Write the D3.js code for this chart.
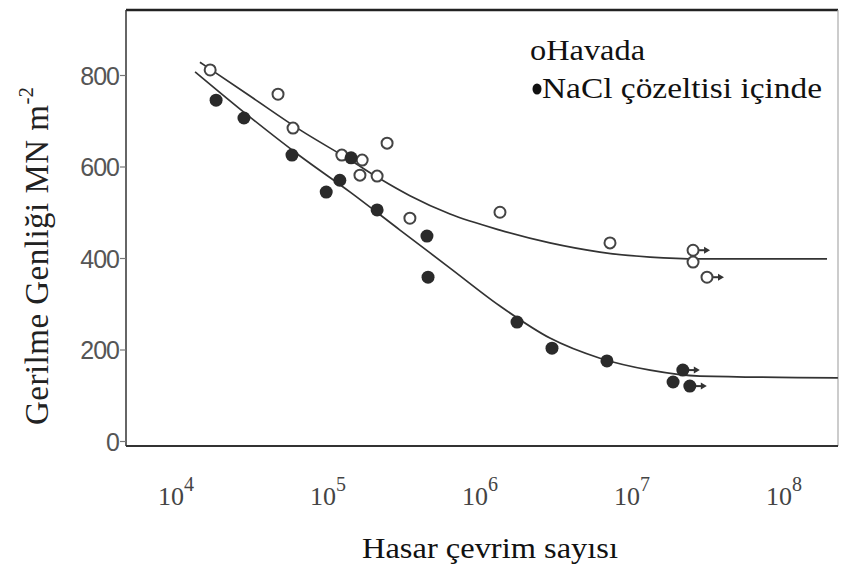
<!DOCTYPE html>
<html><head><meta charset="utf-8">
<script src="https://cdn.jsdelivr.net/npm/d3@7/dist/d3.min.js"></script>
<style>html,body{margin:0;padding:0;background:#fff;}svg{display:block;}</style>
</head><body><svg id="c" width="842" height="565"></svg>
<script>
// ---- data ----
const xTickValues = [1e4, 1e5, 1e6, 1e7, 1e8];
const xTickExponents = ["4", "5", "6", "7", "8"];
const yTickValues = [0, 200, 400, 600, 800];

// Havada (open circles)
const havadaN = [1.81e4, 5.06e4, 6.35e4, 1.33e5, 1.81e5, 1.75e5, 2.27e5, 2.64e5, 3.73e5, 1.46e6, 7.73e6, 2.72e7, 2.72e7, 3.36e7];
const havadaS = [811, 758, 684, 625, 614, 581, 579, 651, 487, 500, 433, 417, 391, 358];
const havadaRunout = [0,0,0,0,0,0,0,0,0,0,0,1,0,1];

// NaCl çözeltisi (filled circles)
const naclN = [1.98e4, 3.02e4, 6.25e4, 1.05e5, 1.29e5, 1.53e5, 2.27e5, 4.83e5, 4.91e5, 1.89e6, 3.21e6, 7.38e6, 2.33e7, 2.01e7, 2.59e7];
const naclS = [745, 706, 625, 544, 570, 619, 505, 448, 358, 260, 203, 175, 155, 129, 120];
const naclRunout = [0,0,0,0,0,0,0,0,0,0,0,0,1,0,1];

// fitted curves
const upperN = [1.55e4, 3.31e4, 7.06e4, 1.51e5, 2.37e5, 3.73e5, 6.85e5, 1.46e6, 3.11e6, 6.64e6, 1.42e7, 3.02e7, 2.07e8];
const upperS = [828, 754, 680, 614, 573, 536, 496, 461, 433, 413, 402, 398, 398];
const lowerN = [1.44e4, 3.31e4, 7.06e4, 1.51e5, 3.21e5, 6.85e5, 1.46e6, 3.11e6, 6.64e6, 1.42e7, 3.02e7, 2.44e8];
const lowerS = [807, 708, 623, 544, 461, 378, 295, 225, 181, 155, 142, 138];

const legendLabels = ["oHavada", "NaCl çözeltisi içinde"];
const xTitle = "Hasar çevrim sayısı";
const yTitle = "Gerilme Genliği MN m";

// ---- layout ----
const svg = d3.select("#c");
svg.append("rect").attr("width", 842).attr("height", 565).attr("fill", "#fff");
const frame = {left: 126, top: 10, right: 838, bottom: 446};

const x = d3.scaleLog().domain([1e4, 1e8]).range([171, 779]);
const y = d3.scaleLinear().domain([0, 800]).range([441, 75]);

// frame
svg.append("line").attr("x1", frame.left).attr("x2", frame.right).attr("y1", frame.top).attr("y2", frame.top)
  .attr("stroke", "#222").attr("stroke-width", 2.5);
svg.append("line").attr("x1", frame.right).attr("x2", frame.right).attr("y1", frame.top).attr("y2", frame.bottom)
  .attr("stroke", "#aaa").attr("stroke-width", 1.2);
svg.append("line").attr("x1", frame.left).attr("x2", frame.right).attr("y1", frame.bottom).attr("y2", frame.bottom)
  .attr("stroke", "#333").attr("stroke-width", 2);

// y axis
const yAxis = d3.axisLeft(y).tickValues(yTickValues).tickSize(6).tickPadding(1).tickSizeOuter(0);
const gy = svg.append("g").attr("transform", `translate(${frame.left},0)`).call(yAxis);
gy.select(".domain").attr("d", `M0,${frame.top}V${frame.bottom}`).attr("stroke", "#333").attr("stroke-width", 1.5);
gy.selectAll(".tick line").attr("stroke", "#777").attr("stroke-width", 1.2);
gy.selectAll(".tick text").attr("font-family", "Liberation Sans, Arial, sans-serif").attr("font-size", 25)
  .attr("fill", "#555").attr("letter-spacing", -1).attr("dy", "0.36em");

// x axis labels (no ticks visible)
const xl = svg.append("g");
xTickValues.forEach((v, i) => {
  const t = xl.append("text").attr("x", x(v) - 13).attr("y", 505)
    .attr("font-family", "Liberation Serif, Times New Roman, serif").attr("font-size", 26).attr("fill", "#444");
  t.append("tspan").text("10");
  t.append("tspan").attr("dy", -14).attr("font-size", 20).text(xTickExponents[i]);
});

// curves
const line = d3.line().x(d => x(d[0])).y(d => y(d[1])).curve(d3.curveMonotoneX);
[[upperN, upperS], [lowerN, lowerS]].forEach(([ns, ss]) => {
  svg.append("path").attr("d", line(ns.map((n, i) => [n, ss[i]])))
    .attr("fill", "none").attr("stroke", "#333").attr("stroke-width", 1.7);
});

// runout arrows
function arrow(cx, cy) {
  svg.append("line").attr("x1", cx + 6).attr("x2", cx + 13).attr("y1", cy).attr("y2", cy)
    .attr("stroke", "#333").attr("stroke-width", 2);
  svg.append("path").attr("d", `M${cx + 11},${cy - 3.5}L${cx + 17},${cy}L${cx + 11},${cy + 3.5}Z`).attr("fill", "#333");
}

// points
havadaN.forEach((n, i) => {
  const cx = x(n), cy = y(havadaS[i]);
  if (havadaRunout[i]) arrow(cx, cy);
  svg.append("circle").attr("cx", cx).attr("cy", cy).attr("r", 5.5)
    .attr("fill", "#fff").attr("stroke", "#444").attr("stroke-width", 2);
});
naclN.forEach((n, i) => {
  const cx = x(n), cy = y(naclS[i]);
  if (naclRunout[i]) arrow(cx, cy);
  svg.append("circle").attr("cx", cx).attr("cy", cy).attr("r", 6.5).attr("fill", "#2a2a2a");
});

// legend
svg.append("text").attr("x", 530).attr("y", 60).attr("font-family", "Liberation Serif, Times New Roman, serif")
  .attr("font-size", 29).attr("fill", "#111").attr("textLength", 115).attr("lengthAdjust", "spacingAndGlyphs").text(legendLabels[0]);
svg.append("ellipse").attr("cx", 537).attr("cy", 89).attr("rx", 4.5).attr("ry", 5.5).attr("fill", "#111");
svg.append("text").attr("x", 542).attr("y", 98).attr("font-family", "Liberation Serif, Times New Roman, serif")
  .attr("font-size", 29).attr("fill", "#111").attr("textLength", 280).attr("lengthAdjust", "spacingAndGlyphs").text(legendLabels[1]);

// axis titles
svg.append("text").attr("x", 490).attr("y", 558).attr("text-anchor", "middle")
  .attr("font-family", "Liberation Serif, Times New Roman, serif").attr("font-size", 30).attr("fill", "#111")
  .attr("textLength", 256).attr("lengthAdjust", "spacingAndGlyphs").text(xTitle);

const yt = svg.append("text").attr("transform", "translate(48,425) rotate(-90)")
  .attr("font-family", "Liberation Serif, Times New Roman, serif").attr("font-size", 33).attr("fill", "#222");
yt.append("tspan").attr("textLength", 320).attr("lengthAdjust", "spacing").text(yTitle);
yt.append("tspan").attr("dy", -15).attr("font-size", 21).text("-2");
</script></body></html>
